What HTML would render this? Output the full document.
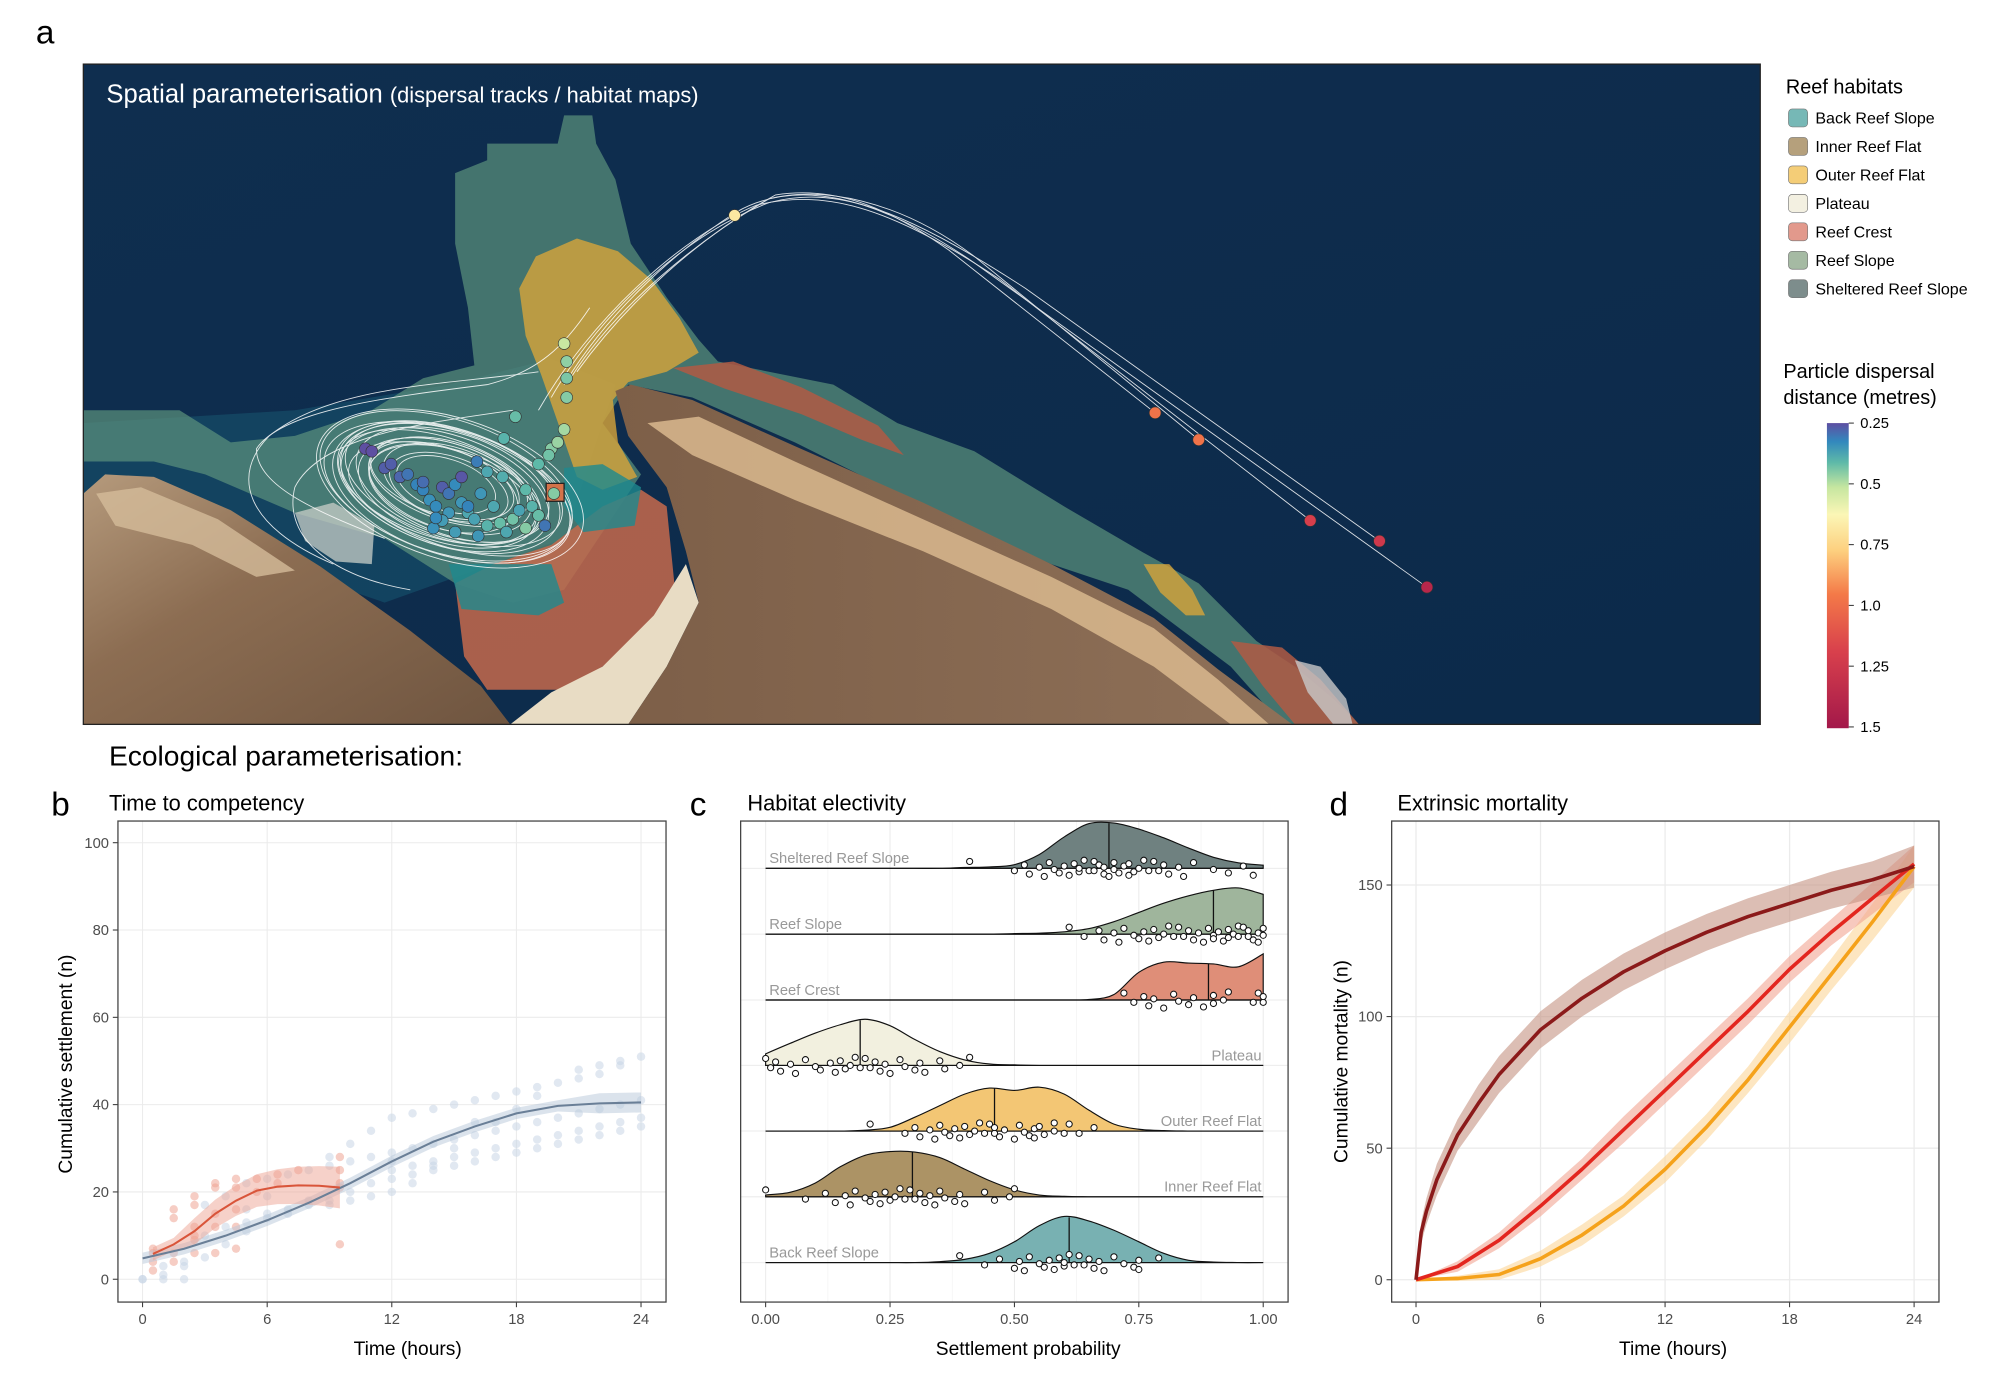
<!DOCTYPE html>
<html><head><meta charset="utf-8">
<style>
html,body{margin:0;padding:0;background:#fff;}
svg{display:block;font-family:"Liberation Sans",Arial,sans-serif;}
</style></head>
<body>
<svg id="fig" width="2000" height="1394" viewBox="0 0 1560 1087.3" xmlns="http://www.w3.org/2000/svg">
<defs>
<linearGradient id="cbar" x1="0" y1="0" x2="0" y2="1">
<stop offset="0" stop-color="#5e4fa2"/><stop offset="0.06" stop-color="#3288bd"/><stop offset="0.13" stop-color="#5fbaa8"/><stop offset="0.21" stop-color="#c5e6a0"/><stop offset="0.3" stop-color="#fbf6b6"/><stop offset="0.42" stop-color="#fdcf7e"/><stop offset="0.56" stop-color="#f47a48"/><stop offset="0.75" stop-color="#d8404c"/><stop offset="1" stop-color="#a3184a"/>
</linearGradient>
<linearGradient id="sea" x1="0" y1="0" x2="1" y2="1"><stop offset="0" stop-color="#0f2e4f"/><stop offset="1" stop-color="#0c2a4a"/></linearGradient>
<linearGradient id="landL" x1="0" y1="0" x2="1" y2="1"><stop offset="0" stop-color="#b59a7c"/><stop offset="0.4" stop-color="#8c6d52"/><stop offset="1" stop-color="#6f5540"/></linearGradient>
<linearGradient id="landR" x1="0" y1="0" x2="1" y2="0"><stop offset="0" stop-color="#7d5f48"/><stop offset="1" stop-color="#8e7058"/></linearGradient>
<clipPath id="mapclip"><rect x="65" y="50" width="1308" height="515"/></clipPath>
</defs>

<text x="28" y="34" font-size="26">a</text>

<g id="map" clip-path="url(#mapclip)">
<rect x="65" y="50" width="1308" height="515" fill="url(#sea)"/>
<path d="M65 330 L230 320 L350 300 L430 280 L480 300 L440 420 L300 470 L65 390Z" fill="#164d68" opacity="0.7"/>
<path d="M355 135 L380 125 L380 112 L435 112 L440 90 L462 90 L465 112 L480 140 L492 190 L520 232 L545 265 L560 282 L610 292 L650 300 L700 330 L760 352 L830 395 L890 430 L935 455 L960 480 L980 500 L1010 520 L1040 545 L1060 565 L1000 565 L960 520 L920 490 L880 460 L820 440 L720 395 L620 345 L540 310 L490 300 L470 330 L500 370 L480 400 L440 460 L400 470 L355 455 L300 420 L230 400 L160 370 L120 360 L65 360 L65 320 L140 320 L180 345 L230 340 L290 320 L330 295 L370 285 L365 240 L355 190Z" fill="#5a907c" opacity="0.72"/>
<path d="M405 225 L418 200 L450 186 L482 196 L508 218 L530 248 L545 275 L520 290 L490 298 L478 312 L482 345 L497 372 L470 382 L450 372 L436 332 L422 292 L410 262Z" fill="#d8a53a" opacity="0.8"/>
<path d="M892 440 L912 440 L930 460 L940 480 L925 480 L905 462Z" fill="#d8a53a" opacity="0.8"/>
<path d="M355 455 L385 440 L430 425 L470 395 L500 382 L520 395 L526 455 L505 492 L470 520 L440 538 L380 538 L362 512Z" fill="#c56a4c" opacity="0.85"/>
<path d="M525 287 L572 282 L625 302 L685 332 L705 355 L672 343 L625 323 L565 303Z" fill="#b05a44" opacity="0.85"/>
<path d="M960 500 L1000 505 L1030 530 L1060 565 L1010 565 L985 535Z" fill="#b05a44" opacity="0.85"/>
<path d="M1010 515 L1030 520 L1050 545 L1055 565 L1040 565 L1020 540Z" fill="#c8c8c8" opacity="0.8"/>
<path d="M350 440 L430 440 L440 470 L420 480 L360 475Z M440 365 L470 362 L500 380 L495 410 L455 415 L440 395Z" fill="#1e8a8e" opacity="0.8"/>
<path d="M230 400 L260 392 L292 410 L290 440 L262 438 L238 422Z" fill="#c9cfc8" opacity="0.75"/>
<path d="M65 385 L82 370 L120 372 L180 398 L250 442 L320 492 L375 535 L398 565 L65 565Z" fill="url(#landL)"/>
<path d="M398 565 L430 540 L470 520 L510 480 L535 440 L545 470 L520 520 L490 565Z" fill="#e8dcc4"/>
<path d="M480 305 L492 300 L540 312 L620 348 L720 392 L820 440 L900 482 L950 522 L1008 565 L490 565 L520 520 L545 470 L535 430 L520 380 L490 340Z" fill="url(#landR)"/>
<path d="M505 330 L545 325 L620 360 L720 405 L820 450 L900 490 L950 530 L990 565 L960 565 L900 520 L820 475 L720 430 L620 390 L540 355Z" fill="#d9b88e" opacity="0.85"/>
<path d="M75 385 L110 380 L170 405 L230 445 L200 450 L150 425 L90 410Z" fill="#d4bc9a" opacity="0.8"/>
<g id="tracks" fill="none" stroke="#ffffff" stroke-width="0.7" opacity="0.85"></g>
<rect x="426" y="377" width="14" height="14" fill="#d4734a" stroke="#222" stroke-width="1"/>
<g id="mapdots"></g>
<text x="83" y="80" fill="#fff" font-size="20">Spatial parameterisation <tspan font-size="17">(dispersal tracks / habitat maps)</tspan></text>
</g>
<rect x="65" y="50" width="1308" height="515" fill="none" stroke="#222" stroke-width="1"/>

<g id="legend">
<text x="1393" y="73" font-size="15.5">Reef habitats</text>
</g>
<g id="colorbar">
<text x="1391" y="295" font-size="15.5">Particle dispersal</text>
<text x="1391" y="315" font-size="15.5">distance (metres)</text>
<rect x="1425" y="330" width="17" height="238" fill="url(#cbar)"/>
</g>

<text x="85" y="597" font-size="22">Ecological parameterisation:</text>

<g id="pb"></g>
<g id="pc"></g>
<g id="pd"></g>
</svg>

<script>
// ---------- Panel b data ----------
const bBlueHours = [0,0,1,1,1,2,2,2,3,3,3,4,4,4,5,5,5,5,6,6,6,6,7,7,7,8,8,8,9,9,9,9,10,10,10,10,11,11,11,11,12,12,12,12,12,12,13,13,13,13,13,14,14,14,14,14,15,15,15,15,15,16,16,16,16,16,17,17,17,17,17,18,18,18,18,18,19,19,19,19,19,20,20,20,20,21,21,21,21,21,22,22,22,22,22,23,23,23,23,23,24,24,24,24];
const bBlueValues = [0,0,0,1,3,0,3,4,5,10,17,8,12,19,11,13,16,22,14,15,19,23,15,16,24,17,18,25,17,18,26,28,18,20,27,31,19,22,28,34,20,23,25,27,29,37,22,24,26,30,38,25,26,27,31,39,26,28,30,32,40,27,29,33,36,41,28,30,34,36,42,29,31,35,39,43,30,32,36,42,44,31,33,37,45,32,34,38,46,48,33,35,39,47,49,34,36,40,49,50,35,37,41,51];
const bRedHours = [0.5,0.5,0.5,0.5,1.5,1.5,1.5,1.5,2.5,2.5,2.5,2.5,2.5,2.5,3.5,3.5,3.5,3.5,3.5,4.5,4.5,4.5,4.5,4.5,5.5,5.5,6.5,6.5,7.5,9.5,9.5,9.5,9.5,9.5];
const bRedValues = [2,4,6,7,4,6,14,16,6,9,10,12,17,19,6,12,15,21,22,7,12,16,21,23,20,23,22,24,25,8,21,22,25,28];
const bBlueFitX = [0,2,4,6,8,10,12,14,16,18,20,22,24];
const bBlueFitY = [4.8,7,10,13.5,17.5,22,27,31.5,35,38,39.7,40.3,40.5];
const bRedFitX = [0.5,1.5,2.5,3.5,4.5,5.5,6.5,7.5,8.5,9.5];
const bRedFitY = [5.8,8,11,15,18,20.3,21.2,21.5,21.4,21];
const bXTicks = [0,6,12,18,24];
const bYTicks = [0,20,40,60,80,100];

// ---------- Panel c data ----------
const cHabitats = ["Sheltered Reef Slope","Reef Slope","Reef Crest","Plateau","Outer Reef Flat","Inner Reef Flat","Back Reef Slope"];
const cColors = ["#6f8180","#9fb59c","#df8e78","#f2f0df","#f3c674","#ac9365","#78b1b2"];
const cGrid = [0,0.05,0.1,0.15,0.2,0.25,0.3,0.35,0.4,0.45,0.5,0.55,0.6,0.65,0.7,0.75,0.8,0.85,0.9,0.95,1.0];
const cDensSheltered = [0,0,0,0,0,0,0,0,0.02,0.03,0.08,0.3,0.68,0.97,0.98,0.85,0.66,0.44,0.24,0.12,0.07];
const cDensReefSlope = [0,0,0,0,0,0,0,0,0,0,0.01,0.02,0.05,0.12,0.27,0.47,0.67,0.83,0.95,1.0,0.86];
const cDensReefCrest = [0,0,0,0,0,0,0,0,0,0,0,0,0,0.01,0.12,0.6,0.82,0.8,0.78,0.72,1.0];
const cDensPlateau = [0.25,0.48,0.7,0.88,1.0,0.86,0.56,0.3,0.12,0.03,0.01,0,0,0,0,0,0,0,0,0,0];
const cDensOuter = [0,0,0,0,0.02,0.08,0.3,0.55,0.8,0.93,0.88,0.95,0.8,0.45,0.15,0.04,0.01,0,0,0,0];
const cDensInner = [0.04,0.1,0.3,0.65,0.9,0.98,0.97,0.85,0.6,0.35,0.15,0.04,0.01,0,0,0,0,0,0,0,0];
const cDensBack = [0,0,0,0,0,0,0,0.02,0.07,0.2,0.45,0.8,1.0,0.9,0.7,0.45,0.2,0.05,0.01,0,0];
const cMedians = [0.69,0.9,0.89,0.19,0.46,0.295,0.61];
const cPtsSheltered = [0.41,0.5,0.52,0.53,0.55,0.56,0.57,0.58,0.59,0.6,0.61,0.62,0.63,0.63,0.64,0.65,0.66,0.66,0.67,0.68,0.68,0.69,0.7,0.7,0.71,0.72,0.73,0.73,0.74,0.75,0.76,0.77,0.78,0.79,0.8,0.81,0.83,0.84,0.86,0.9,0.93,0.96,0.98];
const cPtsReefSlope = [0.61,0.64,0.67,0.68,0.7,0.71,0.72,0.74,0.75,0.76,0.77,0.78,0.79,0.8,0.81,0.82,0.83,0.84,0.85,0.86,0.87,0.88,0.89,0.9,0.9,0.91,0.92,0.93,0.93,0.94,0.95,0.95,0.96,0.97,0.97,0.98,0.99,0.99,1.0,1.0];
const cPtsReefCrest = [0.72,0.74,0.76,0.77,0.78,0.8,0.82,0.83,0.85,0.86,0.88,0.9,0.9,0.92,0.93,0.98,0.99,1.0,1.0];
const cPtsPlateau = [0,0.01,0.02,0.03,0.05,0.06,0.08,0.1,0.11,0.13,0.14,0.15,0.16,0.17,0.18,0.19,0.2,0.21,0.22,0.23,0.24,0.25,0.27,0.28,0.3,0.31,0.32,0.35,0.36,0.39,0.41];
const cPtsOuter = [0.21,0.28,0.3,0.31,0.33,0.34,0.35,0.36,0.37,0.38,0.39,0.4,0.41,0.42,0.43,0.44,0.45,0.46,0.46,0.47,0.48,0.5,0.51,0.52,0.53,0.54,0.54,0.55,0.56,0.58,0.58,0.6,0.61,0.63,0.66];
const cPtsInner = [0,0.08,0.12,0.14,0.16,0.17,0.18,0.2,0.21,0.22,0.23,0.24,0.25,0.26,0.27,0.28,0.29,0.3,0.31,0.32,0.33,0.34,0.35,0.36,0.38,0.39,0.4,0.44,0.46,0.49,0.5];
const cPtsBack = [0.39,0.44,0.47,0.5,0.51,0.52,0.53,0.55,0.56,0.57,0.58,0.59,0.6,0.6,0.61,0.62,0.63,0.64,0.65,0.66,0.67,0.68,0.7,0.72,0.74,0.75,0.75,0.79];
const cXTicks = [0,0.25,0.5,0.75,1.0];
const cXTickLabels = ["0.00","0.25","0.50","0.75","1.00"];

// ---------- Panel d data ----------
const dHoursA = [0,0.25,0.5,1,2,3,4,6,8,10,12,14,16,18,20,22,24];
const dDark = [0,18,26,38,55,67,78,95,107,117,125,132,138,143,148,152,157];
const dHoursB = [0,2,4,6,8,10,12,14,16,18,20,22,24];
const dRed = [0,5,15,28,42,57,72,87,102,118,132,145,158];
const dOrange = [0,0.5,2,8,17,28,42,58,76,96,116,136,157];
const dDarkSE = [0,4,5,6,6,7,7,7,7,7,7,7,7,7,7,7,8];
const dRedSE = [0,2,3,4,4,5,5,5,5,5,5,6,7];
const dOrangeSE = [0,1,2,3,4,4,5,5,5,6,6,7,8];
const dXTicks = [0,6,12,18,24];
const dYTicks = [0,50,100,150];

// ---------- Map data ----------
const legendNames = ["Back Reef Slope","Inner Reef Flat","Outer Reef Flat","Plateau","Reef Crest","Reef Slope","Sheltered Reef Slope"];
const legendColors = ["#76b8b6","#b5a07c","#f4cd77","#f3f0e1","#e2998c","#a5baa3","#7d8d8c"];
const cbarTicks = [0.25,0.5,0.75,1.0,1.25,1.5];
const cbarTickLabels = ["0.25","0.5","0.75","1.0","1.25","1.5"];
const dotX = [285,290,300,305,312,318,325,330,335,340,345,350,355,360,365,370,375,380,385,390,395,400,405,410,415,420,425,430,435,440,442,442,442,440,432,402,420,428,393,380,365,350,345,338,330,360,372,392,410,373,355,340,573,901,935,1022,1076,1113];
const dotY = [350,352,365,362,372,370,378,382,390,395,380,385,378,392,400,405,385,410,395,408,415,405,398,412,395,402,410,350,345,335,310,295,282,268,385,325,362,355,342,368,395,400,406,412,376,372,360,372,382,418,415,404,168,322,343,406,422,458];
const dotDist = [0.25,0.25,0.27,0.27,0.28,0.3,0.32,0.32,0.34,0.33,0.27,0.3,0.33,0.35,0.38,0.37,0.35,0.4,0.38,0.42,0.38,0.43,0.37,0.45,0.4,0.42,0.3,0.45,0.47,0.48,0.45,0.44,0.46,0.52,0.45,0.42,0.41,0.43,0.4,0.38,0.32,0.35,0.36,0.34,0.29,0.26,0.31,0.39,0.41,0.35,0.36,0.33,0.68,0.98,0.98,1.2,1.25,1.38];
const swirlRx = [40,48,55,60,66,72,78,84,90,96,102,108,58,70,82,94,64,76,88,100];
const swirlRy = [20,24,28,31,34,37,40,43,46,49,52,55,26,33,39,45,30,36,42,48];
const swirlCx = [348,350,352,346,351,349,353,347,350,352,348,351,345,355,343,356,350,345,354,349];
const swirlCy = [378,380,377,381,379,383,378,382,380,384,379,381,375,385,380,382,376,386,378,384];

const NS = "http://www.w3.org/2000/svg";
function mk(parent, tag, attrs, text){
  const e = document.createElementNS(NS, tag);
  for (const k in attrs) e.setAttribute(k, attrs[k]);
  if (text !== undefined) e.textContent = text;
  parent.appendChild(e);
  return e;
}
function spectral(v){
  const t = (v-0.25)/1.25;
  const stops=[[0,[94,79,162]],[0.06,[50,136,189]],[0.13,[95,186,168]],[0.21,[197,230,160]],[0.3,[251,246,182]],[0.42,[253,207,126]],[0.56,[244,122,72]],[0.75,[216,64,76]],[1,[163,24,74]]];
  for(let i=1;i<stops.length;i++){ if(t<=stops[i][0]){const a=stops[i-1],b=stops[i];const f=(t-a[0])/(b[0]-a[0]);return 'rgb('+a[1].map((c,j)=>Math.round(c+(b[1][j]-c)*f)).join(',')+')';}}
  return 'rgb(163,24,74)';
}

// ---------- Map ----------
const tracks = document.getElementById('tracks');
for (let i=0;i<swirlRx.length;i++){
  const el = mk(tracks,'ellipse',{cx:swirlCx[i],cy:swirlCy[i],rx:swirlRx[i],ry:swirlRy[i],transform:'rotate(18 '+swirlCx[i]+' '+swirlCy[i]+')'});
  
  
}
const longTracks = ["M440 300 C470 250 520 200 575 165 C620 140 680 150 760 205 L1113 458","M430 310 C470 240 540 180 600 158 C650 145 700 160 800 225 L1076 422","M420 320 C460 250 530 185 590 160 C640 148 690 158 780 218 L1022 406","M445 295 C480 240 540 190 600 155 C640 145 700 155 760 200 L935 343","M450 290 C490 235 545 185 605 152 C650 145 690 160 740 195 L901 322","M300 420 C250 400 200 380 200 350 C220 320 300 310 380 300 C420 290 440 270 460 240","M260 440 C190 410 180 370 210 340 C260 300 350 300 420 290","M320 460 C260 450 220 420 230 380 C250 340 330 330 400 320"];
longTracks.forEach(d=>{const el=mk(tracks,'path',{d:d});
  
  });
const mapdots = document.getElementById('mapdots');
for (let i=0;i<dotX.length;i++){
  const el = mk(mapdots,'circle',{cx:dotX[i],cy:dotY[i],r:4.6,fill:spectral(dotDist[i]),stroke:'#333','stroke-width':0.5});
  
  
}
const legend = document.getElementById('legend');
legendNames.forEach((n,i)=>{
  const y = 92 + i*22.2;
  const r = mk(legend,'rect',{x:1395,y:y-7,width:15,height:14,rx:3,fill:legendColors[i],stroke:'#777','stroke-width':0.5});
  
  
  const t = mk(legend,'text',{x:1416,y:y+4.5,'font-size':12.5},n);
  
  
});
const cb = document.getElementById('colorbar');
cbarTicks.forEach((v,i)=>{
  const y = 330 + (v-0.25)/1.25*237;
  mk(cb,'line',{x1:1442,x2:1446,y1:y,y2:y,stroke:'#333','stroke-width':0.8});
  const t = mk(cb,'text',{x:1451,y:y+4,'font-size':11.5},cbarTickLabels[i]);
  
  
});

// ---------- common axes helpers ----------
function panelFrame(g, box, letter, title, lx, tx){
  const l = mk(g,'text',{x:lx,y:636,'font-size':26},letter);
  
  
  const t = mk(g,'text',{x:tx,y:632,'font-size':17},title);
  
  
  mk(g,'rect',{x:box.x0,y:box.y0,width:box.x1-box.x0,height:box.y1-box.y0,fill:'#fff'});
}
function frameBorder(g, box){
  const r = mk(g,'rect',{x:box.x0,y:box.y0,width:box.x1-box.x0,height:box.y1-box.y0,fill:'none',stroke:'#444','stroke-width':1});
  
  
}
function lineD(xs,ys,sx,sy){return xs.map((x,i)=>(i?'L':'M')+sx(x).toFixed(1)+' '+sy(ys[i]).toFixed(1)).join(' ');}
function ribbonD(xs,lo,hi,sx,sy){
  let d = xs.map((x,i)=>(i?'L':'M')+sx(x).toFixed(1)+' '+sy(hi[i]).toFixed(1)).join(' ');
  for(let i=xs.length-1;i>=0;i--) d+=' L'+sx(xs[i]).toFixed(1)+' '+sy(lo[i]).toFixed(1);
  return d+'Z';
}
const TOP = 640.4, BOT = 1015.6;

// ---------- Panel b ----------
(function(){
  const g = document.getElementById('pb');
  const box = {x0:92,x1:519.5,y0:TOP,y1:BOT};
  const sx = h => 111.2 + h/24*388.8;
  const sy = v => 997.8 - v*3.405;
  panelFrame(g, box, 'b', 'Time to competency', 40, 85);
  bYTicks.forEach(v=>{
    mk(g,'line',{x1:box.x0,x2:box.x1,y1:sy(v),y2:sy(v),stroke:'#ebebeb','stroke-width':0.8});
    mk(g,'line',{x1:box.x0-4,x2:box.x0,y1:sy(v),y2:sy(v),stroke:'#333','stroke-width':0.8});
    const t = mk(g,'text',{x:box.x0-7,y:sy(v)+4,'font-size':11.5,'text-anchor':'end',fill:'#4d4d4d'},String(v));
    
    
  });
  bXTicks.forEach(v=>{
    mk(g,'line',{x1:sx(v),x2:sx(v),y1:box.y0,y2:box.y1,stroke:'#ebebeb','stroke-width':0.8});
    mk(g,'line',{x1:sx(v),x2:sx(v),y1:box.y1,y2:box.y1+4,stroke:'#333','stroke-width':0.8});
    const t = mk(g,'text',{x:sx(v),y:box.y1+17,'font-size':11.5,'text-anchor':'middle',fill:'#4d4d4d'},String(v));
    
    
  });
  bBlueHours.forEach((h,i)=>{
    const c = mk(g,'circle',{cx:sx(h),cy:sy(bBlueValues[i]),r:3.3,fill:'#c8d6e6',opacity:0.55});
    
    
  });
  bRedHours.forEach((h,i)=>{
    const c = mk(g,'circle',{cx:sx(h),cy:sy(bRedValues[i]),r:3.3,fill:'#eea493',opacity:0.55});
    
    
  });
  const bLo = bBlueFitY.map((v,i)=>v-(i>10?2.3:1.3)), bHi = bBlueFitY.map((v,i)=>v+(i>10?2.3:1.3));
  const rb = mk(g,'path',{d:ribbonD(bBlueFitX,bLo,bHi,sx,sy),fill:'#b8c8da',opacity:0.5});
  
  
  const rLo = bRedFitY.map((v,i)=>v-(i<2?1.5:2.5+i*0.25)), rHi = bRedFitY.map((v,i)=>v+(i<2?1.5:2.5+i*0.25));
  const rr = mk(g,'path',{d:ribbonD(bRedFitX,rLo,rHi,sx,sy),fill:'#eea493',opacity:0.5});
  
  
  const bl = mk(g,'path',{d:lineD(bBlueFitX,bBlueFitY,sx,sy),fill:'none',stroke:'#6a7f97','stroke-width':1.6});
  
  
  const rl = mk(g,'path',{d:lineD(bRedFitX,bRedFitY,sx,sy),fill:'none',stroke:'#d9553a','stroke-width':1.6});
  
  
  frameBorder(g, box);
  const xt = mk(g,'text',{x:318,y:1057,'font-size':15,'text-anchor':'middle'},'Time (hours)');
  
  
  const yt = mk(g,'text',{x:0,y:0,'font-size':15,'text-anchor':'middle',transform:'translate(56 830) rotate(-90)'},'Cumulative settlement (n)');
  
  
})();

// ---------- Panel c ----------
(function(){
  const g = document.getElementById('pc');
  const box = {x0:577.7,x1:1004.7,y0:TOP,y1:BOT};
  const sx = p => 597.2 + p*388.1;
  const baselines = [677.3,728.6,780.0,831.0,882.2,933.5,984.8];
  const H = 36;
  panelFrame(g, box, 'c', 'Habitat electivity', 538, 583);
  cXTicks.forEach((v,i)=>{
    mk(g,'line',{x1:sx(v),x2:sx(v),y1:box.y0,y2:box.y1,stroke:'#ebebeb','stroke-width':0.8});
    if(i<cXTicks.length-1) mk(g,'line',{x1:sx(v+0.125),x2:sx(v+0.125),y1:box.y0,y2:box.y1,stroke:'#f4f4f4','stroke-width':0.6});
    mk(g,'line',{x1:sx(v),x2:sx(v),y1:box.y1,y2:box.y1+4,stroke:'#333','stroke-width':0.8});
    const t = mk(g,'text',{x:sx(v),y:box.y1+17,'font-size':11.5,'text-anchor':'middle',fill:'#4d4d4d'},cXTickLabels[i]);
    
    
  });
  baselines.forEach(b=>mk(g,'line',{x1:box.x0,x2:box.x1,y1:b,y2:b,stroke:'#ebebeb','stroke-width':0.8}));
  const dens = [cDensSheltered,cDensReefSlope,cDensReefCrest,cDensPlateau,cDensOuter,cDensInner,cDensBack];
  const pts = [cPtsSheltered,cPtsReefSlope,cPtsReefCrest,cPtsPlateau,cPtsOuter,cPtsInner,cPtsBack];
  const jit = [-6,2,-3,5,-1,7,-5,1,4,-2,6,-4,3,0,-7,2];
  cHabitats.forEach((name,k)=>{
    const b = baselines[k];
    const P = cGrid.map((x,i)=>[sx(x), b - dens[k][i]*H]);
    let d = 'M'+P[0][0]+' '+b+' L'+P[0][0]+' '+P[0][1].toFixed(1);
    for(let i=0;i<P.length-1;i++){
      const p0=P[Math.max(0,i-1)],p1=P[i],p2=P[i+1],p3=P[Math.min(P.length-1,i+2)];
      const c1=[p1[0]+(p2[0]-p0[0])/6,p1[1]+(p2[1]-p0[1])/6], c2=[p2[0]-(p3[0]-p1[0])/6,p2[1]-(p3[1]-p1[1])/6];
      d+=' C'+c1[0].toFixed(1)+' '+c1[1].toFixed(1)+' '+c2[0].toFixed(1)+' '+c2[1].toFixed(1)+' '+p2[0].toFixed(1)+' '+p2[1].toFixed(1);
    }
    d+=' L'+P[P.length-1][0]+' '+b+'Z';
    const area = mk(g,'path',{d:d,fill:cColors[k],stroke:'#111','stroke-width':0.9});
    
    
    mk(g,'line',{x1:sx(0),x2:sx(1),y1:b,y2:b,stroke:'#111','stroke-width':0.9});
    const m = cMedians[k];
    let i0 = Math.min(cGrid.length-2, Math.floor(m/0.05));
    const f = (m - cGrid[i0])/0.05;
    const dm = dens[k][i0]*(1-f)+dens[k][i0+1]*f;
    const ml = mk(g,'line',{x1:sx(m),x2:sx(m),y1:b,y2:b-dm*H,stroke:'#111','stroke-width':1});
    
    
    const right = (k>=3 && k<=5);
    const lbl = mk(g,'text',{x:right?984:600,y:b-4,'font-size':11.5,'text-anchor':right?'end':'start',fill:'#999'},name);
    
    
    pts[k].forEach((p,i)=>{
      const c = mk(g,'circle',{cx:sx(p),cy:b+jit[i%jit.length]*0.9,r:2.4,fill:'#fff',stroke:'#111','stroke-width':0.8});
      
      
    });
  });
  frameBorder(g, box);
  const xt = mk(g,'text',{x:802,y:1057,'font-size':15,'text-anchor':'middle'},'Settlement probability');
  
  
})();

// ---------- Panel d ----------
(function(){
  const g = document.getElementById('pd');
  const box = {x0:1085.5,x1:1512.4,y0:TOP,y1:BOT};
  const sx = h => 1104.5 + h/24*388.5;
  const sy = v => 998.2 - v*2.0527;
  panelFrame(g, box, 'd', 'Extrinsic mortality', 1037, 1090);
  dYTicks.forEach(v=>{
    mk(g,'line',{x1:box.x0,x2:box.x1,y1:sy(v),y2:sy(v),stroke:'#ebebeb','stroke-width':1});
    mk(g,'line',{x1:box.x0-4,x2:box.x0,y1:sy(v),y2:sy(v),stroke:'#333','stroke-width':0.8});
    const t = mk(g,'text',{x:box.x0-7,y:sy(v)+4,'font-size':11.5,'text-anchor':'end',fill:'#4d4d4d'},String(v));
    
    
  });
  dXTicks.forEach(v=>{
    mk(g,'line',{x1:sx(v),x2:sx(v),y1:box.y0,y2:box.y1,stroke:'#ebebeb','stroke-width':1});
    mk(g,'line',{x1:sx(v),x2:sx(v),y1:box.y1,y2:box.y1+4,stroke:'#333','stroke-width':0.8});
    const t = mk(g,'text',{x:sx(v),y:box.y1+17,'font-size':11.5,'text-anchor':'middle',fill:'#4d4d4d'},String(v));
    
    
  });
  const series = [
    {xs:dHoursB,ys:dOrange,se:dOrangeSE,col:'#f5a21b',fill:'#fbd597',name:'orange'},
    {xs:dHoursB,ys:dRed,se:dRedSE,col:'#e3261f',fill:'#f2a592',name:'red'},
    {xs:dHoursA,ys:dDark,se:dDarkSE,col:'#8b1a1a',fill:'#c49282',name:'dark-red'}
  ];
  series.forEach(s=>{
    const lo = s.ys.map((v,i)=>v-s.se[i]), hi = s.ys.map((v,i)=>v+s.se[i]);
    const r = mk(g,'path',{d:ribbonD(s.xs,lo,hi,sx,sy),fill:s.fill,opacity:0.6});
    
    
  });
  series.forEach(s=>{
    const l = mk(g,'path',{d:lineD(s.xs,s.ys,sx,sy),fill:'none',stroke:s.col,'stroke-width':2.8,'stroke-linejoin':'round'});
    
    
  });
  frameBorder(g, box);
  const xt = mk(g,'text',{x:1305,y:1057,'font-size':15,'text-anchor':'middle'},'Time (hours)');
  
  
  const yt = mk(g,'text',{x:0,y:0,'font-size':15,'text-anchor':'middle',transform:'translate(1051 828) rotate(-90)'},'Cumulative mortality (n)');
  
  
})();
</script>
</body></html>
